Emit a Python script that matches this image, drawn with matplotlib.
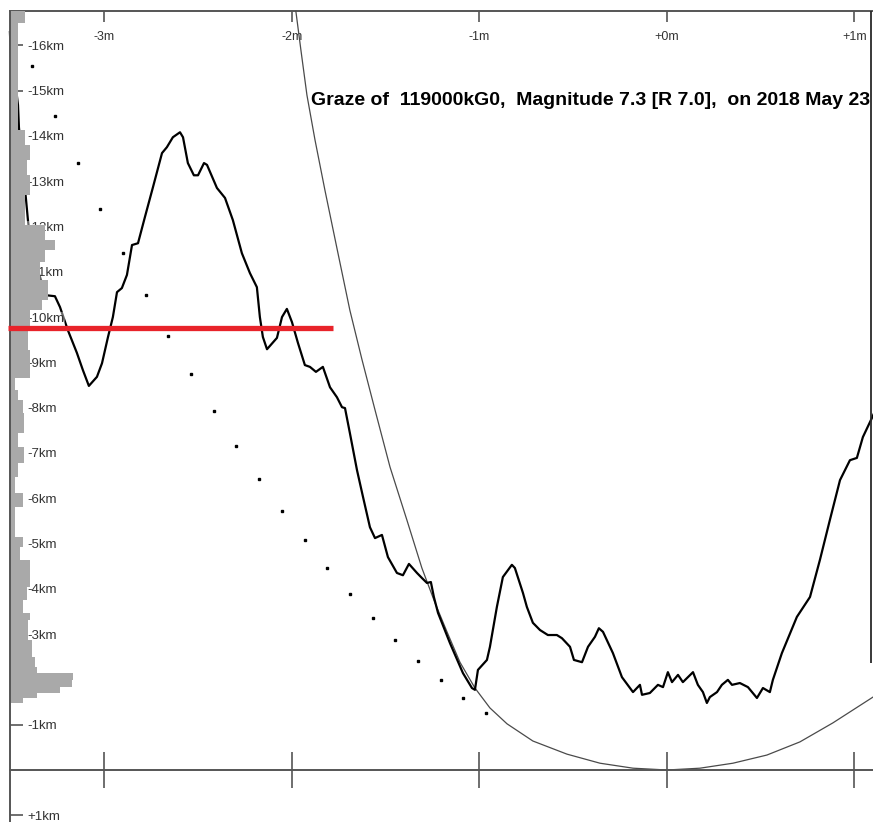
import matplotlib
matplotlib.use("Agg")
import matplotlib.pyplot as plt

plt.rcParams['font.family'] = ['Liberation Sans', 'DejaVu Sans']

# observed limb profile, minutes from central graze vs km
profile_min = [-3.504, -3.499, -3.477, -3.461, -3.456, -3.440, -3.419, -3.408, -3.387, -3.365,
               -3.333, -3.328, -3.264, -3.237, -3.195, -3.147, -3.115, -3.083, -3.040, -3.013,
               -2.981, -2.955, -2.933, -2.907, -2.880, -2.853, -2.821, -2.784, -2.741, -2.693,
               -2.667, -2.635, -2.597, -2.581, -2.555, -2.523, -2.501, -2.469, -2.453, -2.400,
               -2.357, -2.315, -2.267, -2.224, -2.187, -2.171, -2.155, -2.133, -2.080, -2.053,
               -2.027, -2.000, -1.968, -1.931, -1.904, -1.872, -1.835, -1.797, -1.760, -1.733,
               -1.717, -1.691, -1.653, -1.621, -1.584, -1.557, -1.520, -1.488, -1.440, -1.408,
               -1.376, -1.333, -1.307, -1.280, -1.259, -1.243, -1.221, -1.157, -1.088, -1.040,
               -1.024, -1.008, -0.960, -0.944, -0.907, -0.875, -0.827, -0.811, -0.768, -0.747,
               -0.715, -0.677, -0.635, -0.587, -0.560, -0.517, -0.496, -0.453, -0.421, -0.384,
               -0.363, -0.341, -0.288, -0.240, -0.181, -0.144, -0.133, -0.091, -0.048, -0.021,
               0.005, 0.027, 0.059, 0.085, 0.107, 0.139, 0.165, 0.192, 0.213, 0.229,
               0.267, 0.293, 0.325, 0.347, 0.389, 0.432, 0.480, 0.512, 0.549, 0.565,
               0.613, 0.693, 0.763, 0.816, 0.869, 0.923, 0.976, 1.013, 1.045, 1.093,
               1.136]
profile_km = [-16.29, -15.74, -15.23, -14.68, -14.19, -13.47, -12.63, -12.14, -11.43, -11.15,
              -10.75, -10.49, -10.46, -10.22, -9.71, -9.21, -8.83, -8.48, -8.68, -8.98,
              -9.56, -10.00, -10.55, -10.64, -10.93, -11.59, -11.63, -12.21, -12.87, -13.62,
              -13.75, -13.97, -14.08, -13.97, -13.40, -13.13, -13.13, -13.40, -13.36, -12.85,
              -12.63, -12.14, -11.41, -10.97, -10.66, -10.00, -9.56, -9.29, -9.54, -10.00,
              -10.18, -9.89, -9.43, -8.94, -8.90, -8.79, -8.90, -8.45, -8.23, -8.01,
              -7.99, -7.44, -6.62, -6.03, -5.36, -5.12, -5.19, -4.70, -4.35, -4.30,
              -4.55, -4.35, -4.24, -4.13, -4.15, -3.82, -3.47, -2.80, -2.14, -1.81,
              -1.77, -2.21, -2.43, -2.72, -3.60, -4.26, -4.53, -4.46, -3.91, -3.60,
              -3.25, -3.09, -2.98, -2.98, -2.91, -2.72, -2.43, -2.38, -2.72, -2.94,
              -3.13, -3.05, -2.58, -2.05, -1.72, -1.88, -1.66, -1.70, -1.88, -1.83,
              -2.16, -1.94, -2.10, -1.94, -2.03, -2.16, -1.88, -1.72, -1.48, -1.61,
              -1.72, -1.88, -1.99, -1.88, -1.92, -1.83, -1.59, -1.81, -1.72, -1.99,
              -2.58, -3.38, -3.82, -4.64, -5.52, -6.40, -6.84, -6.89, -7.35, -7.77,
              -8.17]

# predicted mean limb
limb_min = [-1.979, -1.952, -1.920, -1.877, -1.824, -1.760, -1.691, -1.627, -1.557, -1.477,
            -1.387, -1.307, -1.237, -1.173, -1.104, -1.024, -0.944, -0.853, -0.715, -0.533,
            -0.357, -0.181, 0.0, 0.176, 0.352, 0.533, 0.709, 0.885, 1.099]
limb_km = [-16.75, -15.89, -14.90, -13.91, -12.80, -11.52, -10.15, -9.07, -7.95, -6.69,
           -5.52, -4.46, -3.69, -3.05, -2.38, -1.81, -1.37, -1.02, -0.64, -0.35,
           -0.15, -0.04, 0.0, -0.04, -0.15, -0.33, -0.62, -1.04, -1.61]

# star path dots
track_min = [-3.385, -3.264, -3.143, -3.022, -2.901, -2.780, -2.659, -2.538, -2.417, -2.296,
             -2.175, -2.054, -1.933, -1.812, -1.691, -1.570, -1.449, -1.328, -1.207, -1.086,
             -0.965]
track_km = [-15.54, -14.44, -13.40, -12.38, -11.41, -10.49, -9.58, -8.74, -7.92, -7.15,
            -6.42, -5.72, -5.08, -4.46, -3.89, -3.36, -2.87, -2.41, -1.99, -1.59,
            -1.26]

# histogram along the left axis
hist_edges_km = [-16.75, -16.49, -14.13, -13.80, -13.47, -13.13, -12.69, -12.03, -11.70, -11.48,
                 -11.21, -10.82, -10.38, -10.15, -9.71, -9.27, -8.65, -8.39, -8.17, -7.88,
                 -7.44, -7.13, -6.78, -6.47, -6.11, -5.81, -5.14, -4.92, -4.64, -4.04,
                 -3.75, -3.47, -3.31, -2.87, -2.49, -2.27, -2.14, -1.99, -1.83, -1.70,
                 -1.59, -1.48]
hist_count = [15, 8, 15, 20, 17, 20, 15, 35, 45, 35, 30, 38, 32, 20, 18, 20, 5, 8, 13, 14,
              8, 14, 8, 5, 13, 5, 13, 10, 20, 17, 13, 20, 18, 22, 25, 27, 63, 62, 50, 27, 13]

red_km = -9.76
red_min = [-3.515, -1.781]

minute_ticks = [-3, -2, -1, 0, 1]
km_ticks = [-16, -15, -14, -13, -12, -11, -10, -9, -8, -7, -6, -5, -4, -3, -2, -1, 1]

title = "Graze of  119000kG0,  Magnitude 7.3 [R 7.0],  on 2018 May 23"

# frame
x_lim = (-3.557, 1.099)
y_lim = (1.148, -17.0)
axis_min = -3.504
top_km = -16.75
edge_min = 1.088
edge_km = (-16.75, -2.36)
hist_scale = 0.0053
line_c = '#555555'
text_c = '#333333'

fig = plt.figure(figsize=(8.73, 8.22), dpi=100)
ax = fig.add_axes([0, 0, 1, 1])
ax.set_xlim(*x_lim)
ax.set_ylim(*y_lim)

ax.plot(profile_min, profile_km, color='black', lw=1.6, zorder=1.2)
ax.plot(limb_min, limb_km, color='#4a4a4a', lw=0.9, zorder=1.1)
ax.plot(track_min, track_km, ls='none', marker='s', ms=1.8, color='black', zorder=1.3)

centers = [(a + b) / 2 for a, b in zip(hist_edges_km[:-1], hist_edges_km[1:])]
heights = [b - a for a, b in zip(hist_edges_km[:-1], hist_edges_km[1:])]
widths = [c * hist_scale for c in hist_count]
ax.barh(centers, widths, height=heights, left=axis_min, color='#a9a9a9',
        edgecolor='none', zorder=1.6)

ax.plot(red_min, [red_km, red_km], color='#e8232a', lw=3.8, solid_capstyle='butt', zorder=3)
ax.vlines(edge_min, edge_km[0], edge_km[1], color='#2a2a2a', lw=1.3, zorder=3)

ax.text(-1.899, -14.79, title, fontsize=14.0, fontweight='bold', ha='left', va='center',
        color='black', zorder=4)

# axes
for s in ['top', 'right']:
    ax.spines[s].set_visible(False)
ax.spines['bottom'].set_position(('data', 0))
ax.spines['left'].set_position(('data', axis_min))
ax.spines['bottom'].set_bounds(axis_min, x_lim[1])
ax.spines['left'].set_bounds(y_lim[0], top_km)
for s in ['bottom', 'left']:
    ax.spines[s].set_color(line_c)
    ax.spines[s].set_linewidth(1.4)

ax.set_xticks(minute_ticks)
ax.tick_params(axis='x', direction='inout', length=25.5, width=1.2, color=line_c,
               labelbottom=False)
ax.set_yticks(km_ticks, [f"{v:+d}km" for v in km_ticks])
ax.tick_params(axis='y', direction='in', length=9, width=1.2, color=line_c,
               labelcolor=text_c, labelsize=9.5, pad=-12.5)
for lab in ax.get_yticklabels():
    lab.set_horizontalalignment('left')
    lab.set_bbox(dict(facecolor='white', alpha=0.4, edgecolor='none', pad=0.6))

sec = ax.secondary_xaxis(top_km, transform=ax.transData)
sec.set_alignment('bottom')
sec.set_xticks(minute_ticks, [f"{v:+d}m" for v in minute_ticks])
sec.tick_params(direction='out', length=8, width=1.2, color=line_c,
                labelcolor=text_c, labelsize=9, pad=6)
sec.spines['bottom'].set_color(line_c)
sec.spines['bottom'].set_linewidth(1.4)
sec.spines['bottom'].set_bounds(axis_min, x_lim[1])

fig.savefig('out.png', dpi=100)
